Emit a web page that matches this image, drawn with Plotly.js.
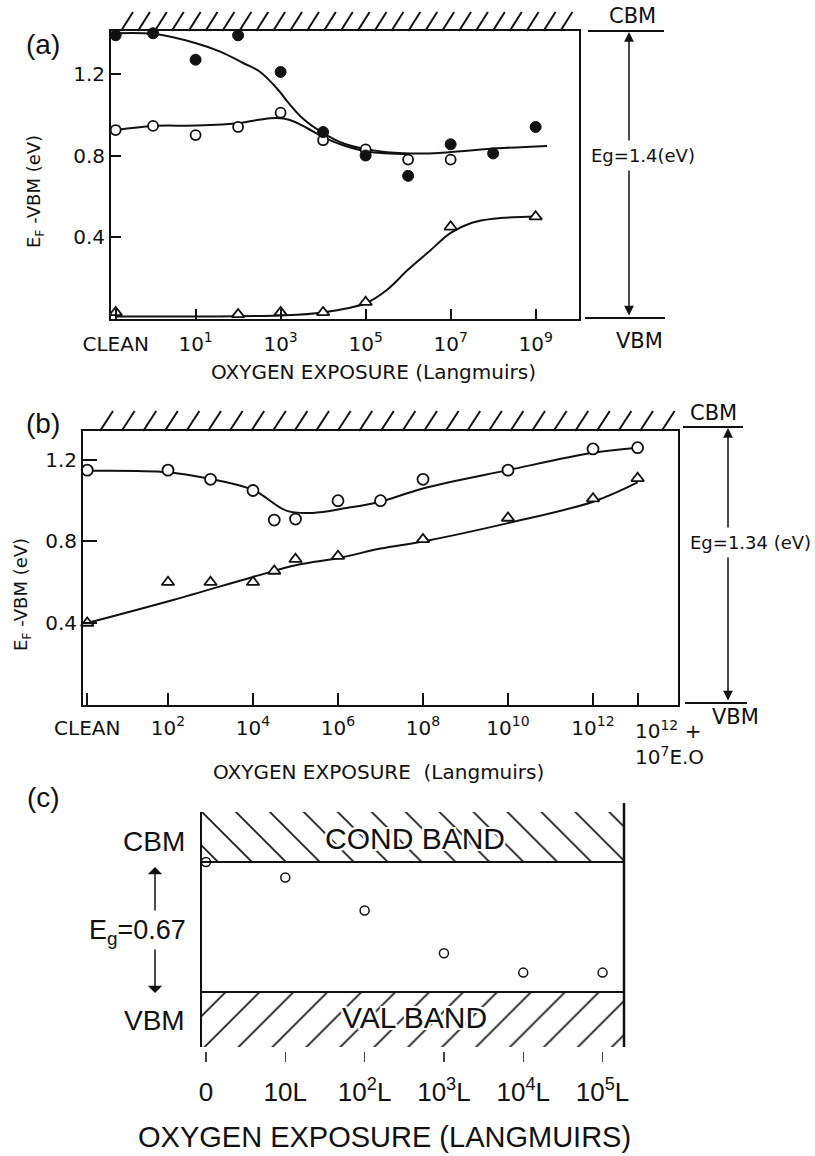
<!DOCTYPE html>
<html>
<head>
<meta charset="utf-8">
<script src="https://cdn.plot.ly/plotly-3.0.1.min.js"></script>
<style>
  html, body { margin: 0; padding: 0; background: #ffffff; }
  #fig { width: 815px; height: 1156px; }
</style>
</head>
<body>
<div id="fig"></div>
<script>
// ---------- Panel (a): exposure axis in log10(L); the clean surface sits left of 10^0
const A_CLEAN = -0.88;
const aFilledX = [A_CLEAN, 0, 1, 2, 3, 4, 5, 6, 7, 8, 9];
const aFilledY = [1.39, 1.40, 1.27, 1.39, 1.21, 0.915, 0.80, 0.70, 0.855, 0.81, 0.94];
const aOpenX   = [A_CLEAN, 0, 1, 2, 3, 4, 5, 6, 7];
const aOpenY   = [0.925, 0.945, 0.90, 0.94, 1.01, 0.875, 0.83, 0.78, 0.78];
const aTriX    = [A_CLEAN, 2, 3, 4, 5, 7, 9];
const aTriY    = [0.03, 0.02, 0.03, 0.03, 0.08, 0.45, 0.50];
// guide curves through each set
const aFilledFitX = [A_CLEAN, 0, 1.03, 1.58, 2.12, 2.52, 2.91, 3.22, 3.53, 4.0, 4.47, 5.03, 6.05, 6.9, 8.1, 9.27];
const aFilledFitY = [1.40, 1.397, 1.35, 1.31, 1.254, 1.21, 1.13, 1.05, 0.98, 0.91, 0.86, 0.83, 0.81, 0.815, 0.835, 0.847];
const aOpenFitX   = [A_CLEAN, 0, 1.03, 2.05, 2.45, 2.91, 3.22, 3.62, 4.0, 4.47, 5.03, 6.05];
const aOpenFitY   = [0.925, 0.945, 0.947, 0.96, 0.974, 0.984, 0.974, 0.935, 0.89, 0.85, 0.82, 0.807];
const aTriFitX    = [A_CLEAN, 1, 3, 4, 5, 5.5, 6, 6.5, 7, 7.5, 8, 9];
const aTriFitY    = [0.01, 0.01, 0.015, 0.03, 0.075, 0.14, 0.24, 0.33, 0.42, 0.47, 0.49, 0.50];
const aTickVals   = [A_CLEAN, 1, 3, 5, 7, 9];
const aTickText   = ['CLEAN', '10<sup>1</sup>', '10<sup>3</sup>', '10<sup>5</sup>', '10<sup>7</sup>', '10<sup>9</sup>'];

// ---------- Panel (b)
const B_CLEAN = 0.1;
const B_OXIDE = 13.05;   // 10^12 L + 10^7 L excited oxygen
const bCircX = [B_CLEAN, 2, 3, 4, 4.5, 5, 6, 7, 8, 10, 12, B_OXIDE];
const bCircY = [1.15, 1.15, 1.105, 1.05, 0.905, 0.91, 1.00, 1.00, 1.105, 1.15, 1.254, 1.26];
const bTriX  = [B_CLEAN, 2, 3, 4, 4.5, 5, 6, 8, 10, 12, B_OXIDE];
const bTriY  = [0.40, 0.60, 0.60, 0.60, 0.655, 0.713, 0.728, 0.81, 0.915, 1.01, 1.11];
const bCircFitX = [B_CLEAN, 2, 2.92, 4.0, 4.8, 5.4, 6.2, 7, 8, 10, 12, B_OXIDE];
const bCircFitY = [1.147, 1.14, 1.11, 1.053, 0.95, 0.94, 0.964, 0.995, 1.06, 1.15, 1.235, 1.26];
const bTriFitX  = [B_CLEAN, 2.12, 4.0, 5.03, 6.05, 7, 8, 10, 12, B_OXIDE];
const bTriFitY  = [0.40, 0.513, 0.626, 0.685, 0.72, 0.765, 0.80, 0.89, 0.995, 1.09];
const bTickVals = [B_CLEAN, 2, 4, 6, 8, 10, 12, B_OXIDE];
const bTickText = ['CLEAN', '10<sup>2</sup>', '10<sup>4</sup>', '10<sup>6</sup>', '10<sup>8</sup>',
                   '10<sup>10</sup>', '10<sup>12</sup>', ''];
// the last tick's two-line label is set flush-left beside its tick
const bOxideLabel = '10<sup>12</sup> +<br>10<sup>7</sup>E.O';

// ---------- Panel (c)
const cStep   = [0, 1, 2, 3, 4, 5];
const cLevel  = [0.67, 0.59, 0.42, 0.20, 0.10, 0.10];
const cTickText = ['0', '10L', '10<sup>2</sup>L', '10<sup>3</sup>L', '10<sup>4</sup>L', '10<sup>5</sup>L'];
const cGap = 0.67;

// ---------- page geometry helpers (page pixels -> paper fractions)
const W = 815, H = 1156;
const px = x => x / W;
const py = y => 1 - y / H;

const INK = '#111111';
const DEJA = 'DejaVu Sans';
const LIB = 'Liberation Sans';

function curve(x, y, xa, ya) {
  return { x, y, xaxis: xa, yaxis: ya, mode: 'lines', type: 'scatter',
           line: { color: INK, width: 2, shape: 'spline', smoothing: 1 },
           hoverinfo: 'skip', showlegend: false };
}
function dots(x, y, xa, ya, symbol, fill, size, lw) {
  return { x, y, xaxis: xa, yaxis: ya, mode: 'markers', type: 'scatter', cliponaxis: false,
           marker: { symbol, size, color: fill, line: { color: INK, width: lw } },
           showlegend: false };
}

// ranges
const aXRange = [-0.99, 10.02], aYRange = [0, 1.411];
const bXRange = [0, 14.0],      bYRange = [0, 1.342];
const cXRange = [-0.05, 5.27],  cYRange = [-0.2835, 0.928];

function band(y0, y1, shape) {
  return { x: [cXRange[0], cXRange[1], cXRange[1], cXRange[0], cXRange[0]],
           y: [y0, y0, y1, y1, y0], xaxis: 'x3', yaxis: 'y3', type: 'scatter',
           mode: 'none', fill: 'toself', fillcolor: 'rgba(0,0,0,0)',
           fillpattern: { shape, size: 24, solidity: 0.075, fgcolor: '#1a1a1a', bgcolor: 'rgba(0,0,0,0)' },
           hoverinfo: 'skip', showlegend: false };
}

const data = [
  band(cGap, cYRange[1], '\\'),
  band(cYRange[0], 0, '/'),
  curve(aFilledFitX, aFilledFitY, 'x', 'y'),
  curve(aOpenFitX, aOpenFitY, 'x', 'y'),
  curve(aTriFitX, aTriFitY, 'x', 'y'),
  dots(aTriX, aTriY, 'x', 'y', 'triangle-up', '#ffffff', 11, 1.8),
  dots(aOpenX, aOpenY, 'x', 'y', 'circle', '#ffffff', 10, 1.8),
  dots(aFilledX, aFilledY, 'x', 'y', 'circle', INK, 11, 1),
  curve(bCircFitX, bCircFitY, 'x2', 'y2'),
  curve(bTriFitX, bTriFitY, 'x2', 'y2'),
  dots(bTriX, bTriY, 'x2', 'y2', 'triangle-up', '#ffffff', 11, 1.8),
  dots(bCircX, bCircY, 'x2', 'y2', 'circle', '#ffffff', 11, 1.8),
  dots(cStep, cLevel, 'x3', 'y3', 'circle', '#ffffff', 9, 1.5)
];

const tickFont = { family: DEJA, size: 20, color: INK };
function boxAxis(extra) {
  return Object.assign({ showline: true, mirror: true, linecolor: INK, linewidth: 2,
    ticks: 'inside', tickcolor: INK, tickwidth: 2, showgrid: false, zeroline: false,
    tickmode: 'array', tickangle: 0, tickfont: tickFont, fixedrange: true }, extra);
}

const shapes = [];
// hatch strokes marking the conduction band above panels (a) and (b)
function hatchTop(x0, x1, yBase, step, dx, dy) {
  for (let x = x0; x <= x1; x += step) {
    shapes.push({ type: 'line', xref: 'paper', yref: 'paper',
      x0: px(x), y0: py(yBase), x1: px(x + dx), y1: py(yBase - dy),
      line: { color: INK, width: 2 } });
  }
}
hatchTop(121, 564, 31, 16.9, 12, 19);
hatchTop(100, 662, 431, 21.6, 13, 20);

function seg(x0, y0, x1, y1, w) {
  shapes.push({ type: 'line', xref: 'paper', yref: 'paper',
    x0: px(x0), y0: py(y0), x1: px(x1), y1: py(y1), line: { color: INK, width: w } });
}
// band-edge levels beside (a) and (b)
seg(588, 31, 664, 31, 2);
seg(585, 318, 665, 318, 2);
seg(683, 427, 743, 427, 2);
seg(685, 703, 747, 703, 2);
// panel (c): right frame line and band edges
seg(624, 803, 624, 1047, 2.5);
shapes.push({ type: 'line', xref: 'x3 domain', yref: 'y3', x0: 0, x1: 1, y0: cGap, y1: cGap,
  line: { color: INK, width: 2 } });
shapes.push({ type: 'line', xref: 'x3 domain', yref: 'y3', x0: 0, x1: 1, y0: 0, y1: 0,
  line: { color: INK, width: 2 } });

function label(x, y, text, font, extra) {
  return Object.assign({ xref: 'paper', yref: 'paper', x: px(x), y: py(y), text,
    showarrow: false, xanchor: 'center', yanchor: 'middle', font }, extra || {});
}
function arrow(x, yHead, yTail, opts) {
  return Object.assign({ xref: 'paper', yref: 'paper', x: px(x), y: py(yHead), ax: 0, ay: yTail - yHead,
    text: '', showarrow: true, arrowcolor: INK, arrowwidth: 1.5, arrowhead: 2, arrowsize: 1.3,
    standoff: 0, startstandoff: 0 }, opts || {});
}

const fD = s => ({ family: DEJA, size: s, color: INK });
const fL = s => ({ family: LIB, size: s, color: INK });
const halo = '2px 0 0 #fff, -2px 0 0 #fff, 0 2px 0 #fff, 0 -2px 0 #fff, 2px 2px 0 #fff, -2px -2px 0 #fff, 2px -2px 0 #fff, -2px 2px 0 #fff';

const annotations = [
  // panel tags
  label(43, 45, '(a)', fL(28)),
  label(43, 423, '(b)', fL(28)),
  label(43, 797, '(c)', fL(28)),
  // panel (a)
  label(373, 372, 'OXYGEN EXPOSURE (Langmuirs)', fD(20)),
  label(35, 192, 'E<sub>F</sub> -VBM (eV)', fD(18), { textangle: -90 }),
  label(632, 16, 'CBM', fD(21)),
  label(639, 341, 'VBM', fD(21)),
  arrow(629, 32, 317, { arrowside: 'end+start' }),
  label(643, 155, 'Eg=1.4(eV)', fD(18), { bgcolor: '#ffffff', borderpad: 4 }),
  // panel (b)
  label(378, 772, 'OXYGEN EXPOSURE  (Langmuirs)', fD(20)),
  label(22, 595, 'E<sub>F</sub> -VBM (eV)', fD(18), { textangle: -90 }),
  { xref: 'x2', yref: 'paper', x: B_OXIDE, y: py(743), xshift: -5, text: bOxideLabel,
    showarrow: false, xanchor: 'left', yanchor: 'middle', align: 'left', font: tickFont },
  label(713, 413, 'CBM', fD(21)),
  label(735, 717, 'VBM', fD(21)),
  arrow(728, 428, 702, { arrowside: 'end+start' }),
  label(750, 542, 'Eg=1.34 (eV)', fD(18), { bgcolor: '#ffffff', borderpad: 4 }),
  // panel (c)
  label(384, 1137, 'OXYGEN EXPOSURE (LANGMUIRS)', fL(29)),
  label(415, 838, 'COND BAND', Object.assign(fL(30), { shadow: halo })),
  label(415, 1018, 'VAL BAND', Object.assign(fL(30), { shadow: halo })),
  label(187, 842, 'CBM', fL(28), { xanchor: 'right' }),
  label(187, 1020, 'VBM', fL(28), { xanchor: 'right' }),
  label(137, 932, 'E<sub>g</sub>=0.67', fL(27)),
  arrow(155, 867, 912, { arrowhead: 1, arrowsize: 1.6 }),
  arrow(155, 993, 948, { arrowhead: 1, arrowsize: 1.6 })
];

const layout = {
  width: W, height: H,
  margin: { l: 0, r: 0, t: 0, b: 0 },
  paper_bgcolor: '#ffffff', plot_bgcolor: 'rgba(0,0,0,0)',
  showlegend: false,
  xaxis: boxAxis({ domain: [px(111), px(579)], range: aXRange, anchor: 'y',
    tickvals: aTickVals, ticktext: aTickText, ticklen: 10, ticklabelstandoff: 6 }),
  yaxis: boxAxis({ domain: [py(318.5), py(31)], range: aYRange, anchor: 'x',
    tickvals: [0.4, 0.8, 1.2], ticktext: ['0.4', '0.8', '1.2'], ticklen: 10 }),
  xaxis2: boxAxis({ domain: [px(83), px(678)], range: bXRange, anchor: 'y2',
    tickvals: bTickVals, ticktext: bTickText, ticklen: 12, ticklabelstandoff: 4 }),
  yaxis2: boxAxis({ domain: [py(704.5), py(431)], range: bYRange, anchor: 'x2',
    tickvals: [0.4, 0.8, 1.2], ticktext: ['0.4', '0.8', '1.2'], ticklen: 14 }),
  xaxis3: { domain: [px(202), px(624)], range: cXRange, anchor: 'free', position: py(1051),
    showline: false, showgrid: false, zeroline: false, ticks: 'outside', ticklen: 10,
    tickwidth: 1.5, tickcolor: '#444444', tickmode: 'array', tickvals: cStep, ticktext: cTickText,
    tickangle: 0, ticklabelstandoff: 8, tickfont: fL(26), fixedrange: true },
  yaxis3: { domain: [py(1047), py(812)], range: cYRange, anchor: 'x3',
    showline: true, linecolor: INK, linewidth: 2.5, showgrid: false, zeroline: false,
    ticks: '', showticklabels: false, fixedrange: true },
  shapes, annotations
};

Plotly.newPlot('fig', data, layout, { staticPlot: true, displayModeBar: false });
</script>
</body>
</html>
